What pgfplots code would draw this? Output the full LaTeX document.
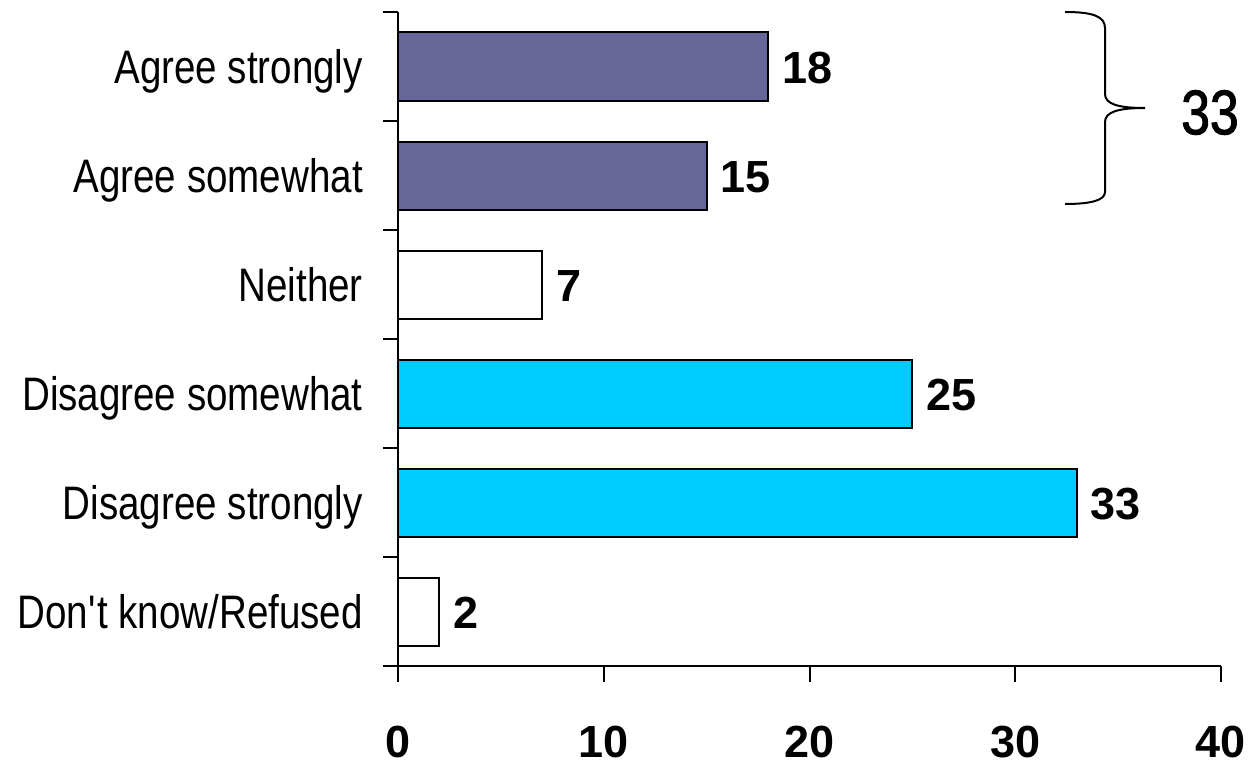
\documentclass[border=0pt]{standalone}
\usepackage{fontspec}
\setmainfont{Liberation Sans}
\newfontfamily\narrowfont[FakeStretch=0.82]{Liberation Sans}
\newfontfamily\narrowmed[FakeStretch=0.82,FakeBold=1.6]{Liberation Sans}
\usepackage{pgfplots}
\pgfplotsset{compat=1.18}
\definecolor{purp}{HTML}{666699}
\definecolor{cyanbar}{HTML}{00CCFF}
\begin{document}
\begin{tikzpicture}
\path[use as bounding box] (0pt,0pt) rectangle (1251pt,-762pt);
\begin{axis}[
  at={(398pt,-666pt)}, anchor=south west,
  scale only axis, width=823pt, height=654pt,
  xmin=0, xmax=40, ymin=-0.5, ymax=5.5,
  axis lines=left, axis line style={-, line width=2pt},
  xbar, bar width=68pt, bar shift=0pt,
  xtick={0,10,20,30,40},
  ytick={0,1,2,3,4,5},
  yticklabels={Don\textquotesingle t know/Refused, Disagree strongly, Disagree somewhat, Neither, Agree somewhat, Agree strongly},
  minor ytick={-0.5,0.5,1.5,2.5,3.5,4.5,5.5},
  tick align=outside,
  major tick length=16pt, minor tick length=15pt,
  major y tick style={draw=none},
  minor y tick style={line width=2pt, black},
  major x tick style={line width=2pt, black},
  xtick pos=left, ytick pos=left,
  /pgf/number format/assume math mode=true,
  xticklabel style={font=\bfseries\fontsize{45}{54}\selectfont, anchor=base, inner sep=0pt, yshift=-75.5pt},
  yticklabel style={font=\narrowfont\fontsize{47}{56}\selectfont, anchor=base east, inner sep=0pt, xshift=-19pt, yshift=-17pt},
  nodes near coords,
  every node near coord/.append style={font=\bfseries\fontsize{45}{54}\selectfont, anchor=base west, inner sep=0pt, xshift=13pt, yshift=-16.5pt, black},
  clip=false,
]
\addplot[fill=purp, draw=black, line width=2pt] coordinates {(18,5) (15,4)};
\addplot[fill=white, draw=black, line width=2pt] coordinates {(7,3) (2,0)};
\addplot[fill=cyanbar, draw=black, line width=2pt] coordinates {(25,2) (33,1)};
\end{axis}
\draw[line width=2pt] (1065pt,-12pt) .. controls (1092pt,-12pt) and (1105pt,-16pt) .. (1105pt,-28pt) -- (1105pt,-94pt) .. controls (1105pt,-104pt) and (1118pt,-108pt) .. (1145pt,-108pt) .. controls (1118pt,-108pt) and (1105pt,-112pt) .. (1105pt,-122pt) -- (1105pt,-192pt) .. controls (1105pt,-200pt) and (1092pt,-204pt) .. (1065pt,-204pt);
\node at (1210pt,-112.5pt) {\narrowmed\fontsize{63}{70}\selectfont 33};
\end{tikzpicture}
\end{document}
